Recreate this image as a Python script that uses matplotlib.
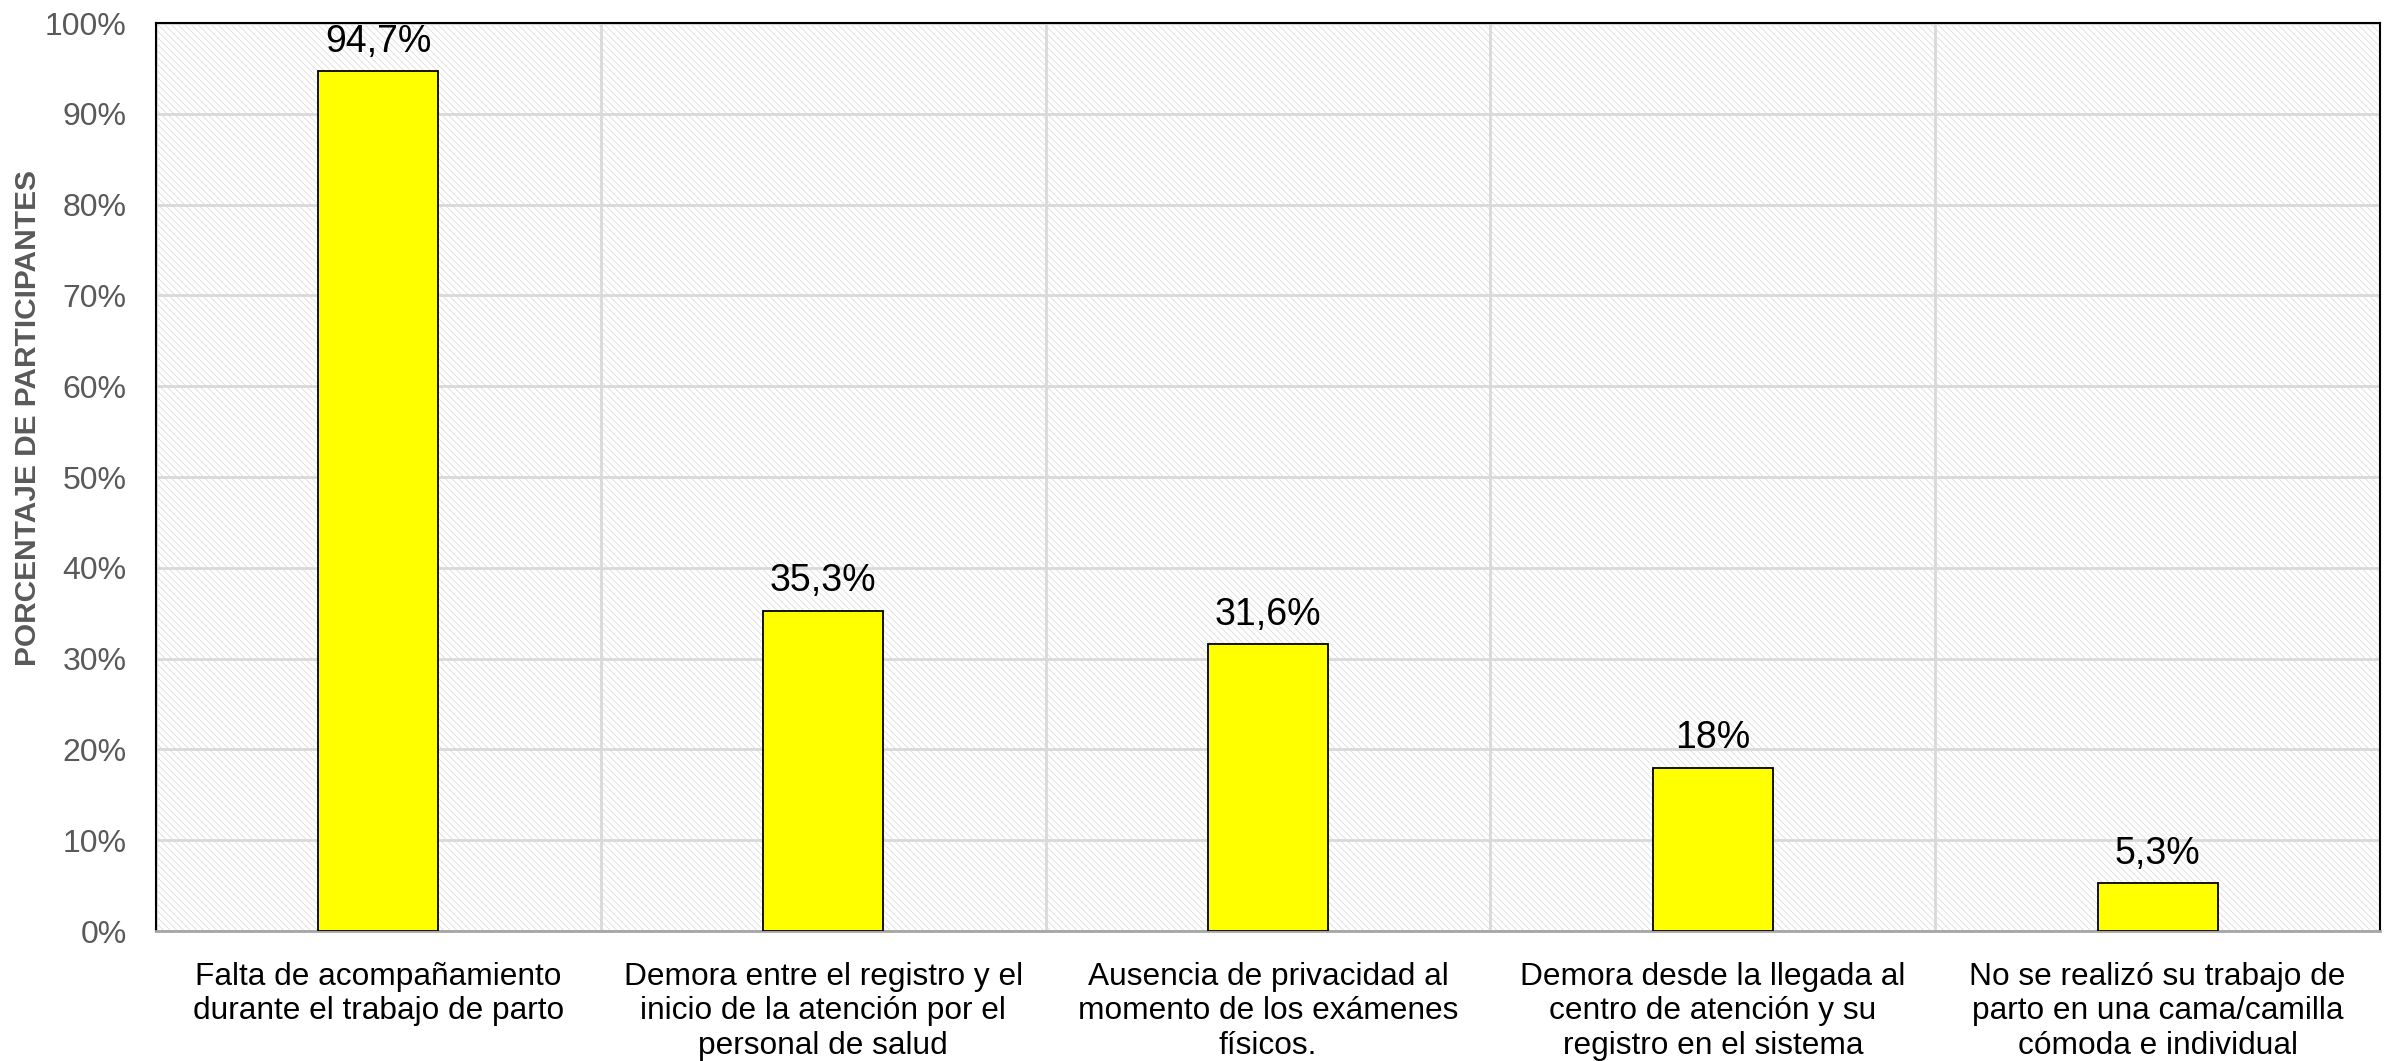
import matplotlib
matplotlib.use("Agg")
import matplotlib.pyplot as plt
from matplotlib.patches import Rectangle
import numpy as np

plt.rcParams['font.family'] = ['Liberation Sans', 'DejaVu Sans']
plt.rcParams['hatch.linewidth'] = 0.55

categorias = [
    "Falta de acompañamiento\ndurante el trabajo de parto",
    "Demora entre el registro y el\ninicio de la atención por el\npersonal de salud",
    "Ausencia de privacidad al\nmomento de los exámenes\nfísicos.",
    "Demora desde la llegada al\ncentro de atención y su\nregistro en el sistema",
    "No se realizó su trabajo de\nparto en una cama/camilla\ncómoda e individual",
]
porcentajes = [94.7, 35.3, 31.6, 18.0, 5.3]
etiquetas = ["94,7%", "35,3%", "31,6%", "18%", "5,3%"]
yticks = list(range(0, 101, 10))

fig = plt.figure(figsize=(24, 10.61), dpi=100)
ax = fig.add_axes([0.065, 0.1225, 0.9267, 0.8558])

# fondo rayado del area de trazado
fondo = Rectangle((0, 0), 1, 1, transform=ax.transAxes, facecolor='white',
                  edgecolor='#dadada', hatch='\\\\\\\\\\', linewidth=0, zorder=0)
ax.add_patch(fondo)
ax.patch.set_visible(False)

x = np.arange(len(categorias))
ax.bar(x, porcentajes, width=0.27, color='#ffff00', edgecolor='black',
       linewidth=1.3, zorder=3)

for xi, v, t in zip(x, porcentajes, etiquetas):
    ax.annotate(t, (xi, v), xytext=(0, 8), textcoords='offset points',
                ha='center', va='bottom', fontsize=27, color='black', zorder=4)

ax.set_xlim(-0.5, len(categorias) - 0.5)
ax.set_ylim(0, 100)
ax.set_yticks(yticks)
ax.set_yticklabels([f"{v}%" for v in yticks])
ax.set_xticks(x)
ax.set_xticklabels(categorias, fontsize=22.8, linespacing=1.2)
ax.set_xticks(np.arange(len(categorias) + 1) - 0.5, minor=True)

ax.tick_params(axis='y', length=0, pad=21, labelsize=23, labelcolor='#595959')
ax.tick_params(axis='x', which='both', length=0, pad=22, labelcolor='black')

ax.grid(axis='y', which='major', color='#d9d9d9', linewidth=2, zorder=1)
ax.grid(axis='x', which='minor', color='#d9d9d9', linewidth=2, zorder=1)
ax.grid(axis='x', which='major', visible=False)

for s in ['top', 'left', 'right']:
    ax.spines[s].set_color('black')
    ax.spines[s].set_linewidth(1.5)
ax.spines['bottom'].set_color('#a6a6a6')
ax.spines['bottom'].set_linewidth(2)

fig.text(28 / 2400, 1 - 418 / 1061, "PORCENTAJE DE PARTICIPANTES", rotation=90,
         ha='center', va='center', fontsize=21.5, fontweight='bold', color='#595959')

fig.savefig("out.png", dpi=100)
